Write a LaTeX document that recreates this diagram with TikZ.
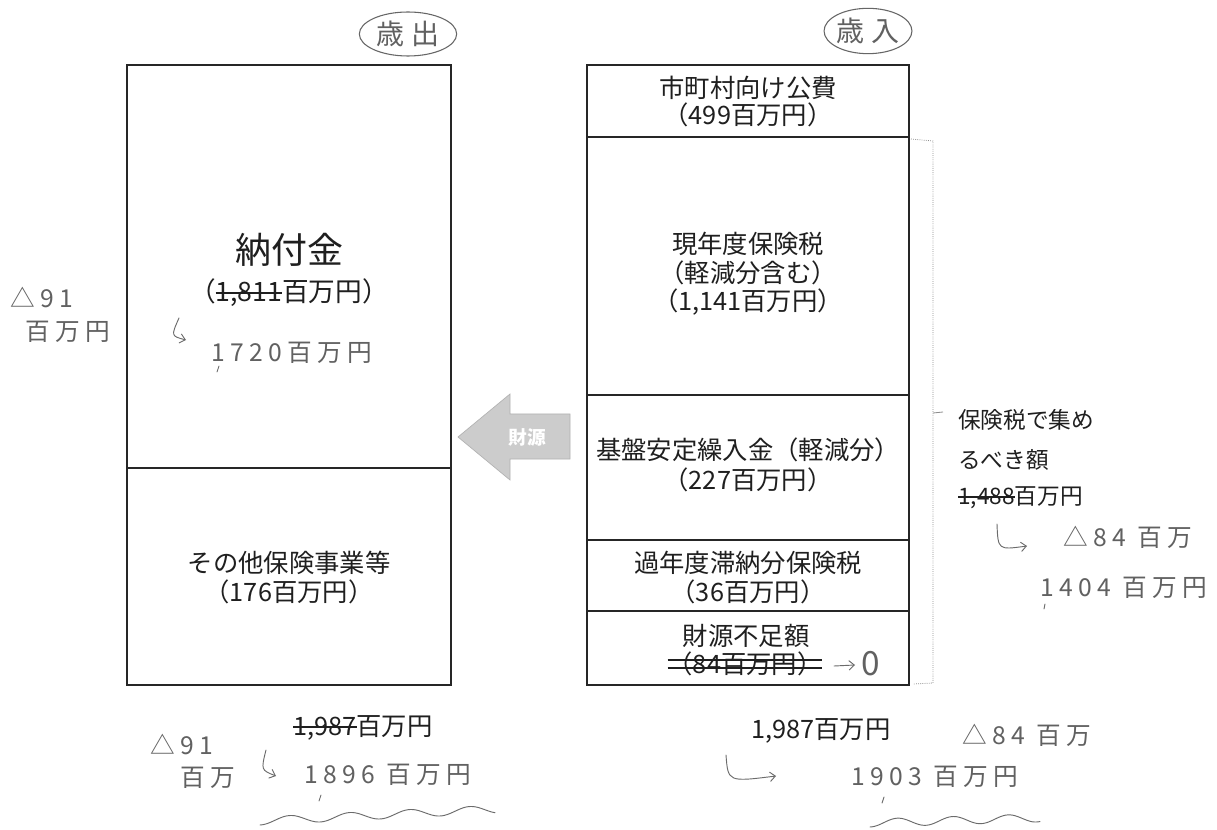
\documentclass[tikz,border=0pt]{standalone}
\usepackage{fontspec}
\usetikzlibrary{shapes.geometric,arrows.meta}
\setmainfont{Noto Sans CJK JP}
\newfontfamily\hand{Noto Sans CJK JP}[LetterSpace=22]
\newsavebox\stkbox
\newcommand\strikeone[1]{\sbox\stkbox{#1}\rlap{\usebox\stkbox}\rule[0.31em]{\wd\stkbox}{0.07em}}
\newcommand\striketwo[1]{\sbox\stkbox{#1}\rlap{\usebox\stkbox}\rlap{\rule[0.2em]{\wd\stkbox}{0.06em}}\rule[0.5em]{\wd\stkbox}{0.06em}}
\begin{document}
\begin{tikzpicture}[x=0.75pt,y=-0.75pt,
  box/.style={draw=black!85,line width=1.2pt},
  prt/.style={text=black!88,inner sep=0pt,align=center,font=\fontsize{19}{22}\selectfont},
  hw/.style={text=black!62,inner sep=0pt,font=\hand\fontsize{18.5}{20}\selectfont},
  hwline/.style={draw=black!58,line width=0.7pt,line cap=round},
  barb/.style={-{Straight Barb[length=4pt,width=7pt]}},
  circ/.style={draw=black!60,ellipse,line width=0.8pt,inner sep=0pt}]
\useasboundingbox (0,0) rectangle (1217,830);
\fill[white] (0,0) rectangle (1217,830);
% circled headings
\node[circ,hw,font=\hand\fontsize{21}{22}\selectfont,minimum width=73pt,minimum height=33pt] (saishutsu) at (408,34) {歳出};
\node[circ,hw,font=\hand\fontsize{21}{22}\selectfont,minimum width=65pt,minimum height=34pt] (sainyu) at (868,31) {歳入};
% left column
\draw[box] (127,65) rectangle (451,685);
\draw[box] (127,468) -- (451,468);
\node[prt,font=\fontsize{27}{30}\selectfont] (nofu) at (289,250) {納付金};
\node[prt,font=\fontsize{20}{24}\selectfont] (nofuv) at (289,293) {（\strikeone{1,811}百万円）};
\node[hw] (n1720) at (292,353) {1720百万円};
\coordinate (a1s) at (179,318);
\coordinate (a1e) at (186,340);
\draw[hwline,barb] (a1s) .. controls (171,336) .. (a1e);
\draw[hwline] (219,366) -- (217,372);
\node[hw] (d91a) at (42,297) {△91};
\node[hw] (d91b) at (68,332) {百万円};
\node[prt] (sonota) at (289,563) {その他保険事業等};
\node[prt] (sonotav) at (289,592) {（176百万円）};
% right column
\draw[box] (587,65) rectangle (909,685);
\foreach \yy in {137,395,540,611} \draw[box] (587,\yy) -- (909,\yy);
\node[prt] (r1a) at (748,88) {市町村向け公費};
\node[prt] (r1b) at (748,115) {（499百万円）};
\node[prt] (r2a) at (748,244) {現年度保険税};
\node[prt] (r2b) at (748,273) {（軽減分含む）};
\node[prt] (r2c) at (748,302) {（1,141百万円）};
\node[prt] (r3a) at (748,450) {基盤安定繰入金（軽減分）};
\node[prt] (r3b) at (748,480) {（227百万円）};
\node[prt] (r4a) at (748,563) {過年度滞納分保険税};
\node[prt] (r4b) at (748,592) {（36百万円）};
\node[prt] (r5a) at (746,636) {財源不足額};
\node[prt] (r5b) at (745,664) {\striketwo{（84百万円）}};
\coordinate (a0s) at (834,666);
\coordinate (a0e) at (855,665);
\draw[hwline,barb] (a0s) -- (a0e);
\node[hw,font=\hand\fontsize{25}{26}\selectfont] (zero) at (871,664) {0};
% arrow 財源
\draw[draw=black!30,fill=black!20,line width=0.5pt]
  (458,437) -- (510,394) -- (510,414) -- (570,414) -- (570,459) -- (510,459) -- (510,480) -- cycle;
\node[text=white,inner sep=0pt,font=\bfseries\fontsize{14}{16}\selectfont] (zaigen) at (527,437) {財源};
% bracket
\draw[black!45,line width=0.6pt,densely dotted] (911,139) -- (933,141) -- (933,683) -- (913,684);
\draw[black!45,line width=0.6pt] (933,413) -- (943,412);
\node[prt,anchor=west,font=\fontsize{17}{20}\selectfont] (b1) at (958,420) {保険税で集め};
\node[prt,anchor=west,font=\fontsize{17}{20}\selectfont] (b2) at (958,460) {るべき額};
\node[prt,anchor=west,font=\fontsize{17}{20}\selectfont] (b3) at (958,498) {\strikeone{1,488}百万円};
\coordinate (a2s) at (997,524);
\coordinate (a2e) at (1027,546);
\draw[hwline,barb] (a2s) .. controls (998,550) .. (a2e);
\node[hw] (d84a) at (1128,537) {△84 百万};
\node[hw] (n1404) at (1124,588) {1404 百万円};
\draw[hwline] (1045,604) -- (1044,609);
% bottom left
\node[prt] (tl) at (363,728) {\strikeone{1,987}百万円};
\node[hw] (d91c) at (182,744) {△91};
\node[hw] (d91d) at (208,778) {百万};
\coordinate (a3s) at (266,750);
\coordinate (a3e) at (276,776);
\draw[hwline,barb] (a3s) .. controls (261,770) .. (a3e);
\node[hw] (n1896) at (388,775) {1896 百万円};
\draw[hwline] (321,795) -- (319,801);
\draw[hwline] plot[domain=260:495,samples=90,smooth] (\x,{821-0.05*(\x-260)+4*sin(6*(\x-260)+90)});
% bottom right
\node[prt] (tr) at (821,731) {1,987百万円};
\node[hw] (d84b) at (1027,735) {△84 百万};
\coordinate (a4s) at (726,755);
\coordinate (a4e) at (776,776);
\draw[hwline,barb] (a4s) .. controls (728,782) .. (a4e);
\node[hw] (n1903) at (935,777) {1903 百万円};
\draw[hwline] (884,797) -- (882,803);
\draw[hwline] plot[domain=870:1040,samples=70,smooth] (\x,{823-0.03*(\x-870)+4*sin(6.5*(\x-870)+90)});
\end{tikzpicture}
\end{document}
